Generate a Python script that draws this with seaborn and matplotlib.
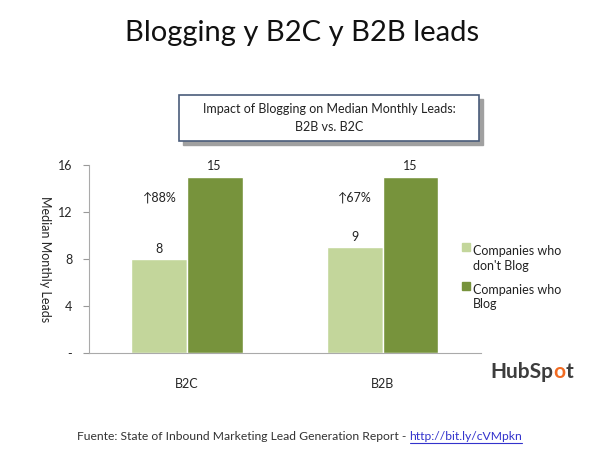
import matplotlib
matplotlib.use('Agg')
import matplotlib.pyplot as plt
from matplotlib.patches import Rectangle
import pandas as pd
import seaborn as sns

# Data
categories = ['B2C', 'B2B']
no_blog = [8, 9]
blog = [15, 15]
series_names = ["Companies who\ndon't Blog", 'Companies who\nBlog']
y_ticks = [0, 4, 8, 12, 16]
y_tick_labels = ['-', '4', '8', '12', '16']

df = pd.DataFrame({
    'category': categories * 2,
    'leads': no_blog + blog,
    'series': [series_names[0]] * 2 + [series_names[1]] * 2,
})

sns.set_style('white')
plt.rcParams['font.family'] = ['Lato', 'DejaVu Sans']

fig = plt.figure(figsize=(6, 4.5), dpi=100)
ax = fig.add_axes([0.148, 0.2156, 0.653, 0.418])

sns.barplot(data=df, x='category', y='leads', hue='series', order=categories,
            hue_order=series_names, palette=['#c3d69b', '#77933c'],
            width=0.57, saturation=1, ax=ax, legend=False)

for cont in ax.containers:
    ax.bar_label(cont, fmt='%d', padding=3, fontsize=9, color='#222222')

# percent increase labels
for i, (a, b) in enumerate(zip(no_blog, blog)):
    pct = round((b - a) / a * 100)
    ax.text(i - 0.14, 13.2, '\u2191' + f'{pct}%', ha='center', va='center',
            fontsize=9, color='#222222', family=['Lato', 'DejaVu Sans'])

ax.set_xlim(-0.5, 1.5)
ax.set_ylim(0, 16)
ax.set_yticks(y_ticks)
ax.set_yticklabels(y_tick_labels, fontsize=9)
ax.set_xticks([0, 1])
ax.set_xticklabels(categories, fontsize=9)
ax.set_xticks([0.5, 1.5], minor=True)
ax.tick_params(axis='x', which='major', length=0, pad=18)
ax.tick_params(axis='x', which='minor', length=4, color='#999999', direction='out')
ax.tick_params(axis='y', length=4, color='#999999', direction='out', pad=8, left=True)
ax.set_xlabel('')
ax.set_ylabel('Median Monthly Leads', rotation=-90, fontsize=9,
              ha='center', va='center')
ax.yaxis.set_label_coords(-0.112, 0.5)
for s in ['top', 'right']:
    ax.spines[s].set_visible(False)
for s in ['left', 'bottom']:
    ax.spines[s].set_color('#aaaaaa')
    ax.spines[s].set_linewidth(0.8)

# legend
for k, (name, col) in enumerate(zip(series_names, ['#c3d69b', '#77933c'])):
    ytop = 1 - (251 - 6) / 450 - k * 39 / 450
    fig.patches.append(Rectangle((462 / 600, ytop - 0.013), 8 / 600, 8 / 450,
                                 transform=fig.transFigure, color=col))
    fig.text(473 / 600, ytop, name, fontsize=9, va='top', ha='left',
             linespacing=1.25, color='#222222')

# main title
fig.text(302 / 600, 1 - 33 / 450, 'Blogging y B2C y B2B leads', ha='center', va='center',
         fontsize=21, color='#111111')

# boxed chart title with shadow
fig.patches.append(Rectangle((183 / 600, 1 - 145 / 450), 300 / 600, 46 / 450,
                             transform=fig.transFigure, color='#a0a0a0', zorder=1))
fig.patches.append(Rectangle((179 / 600, 1 - 141 / 450), 300 / 600, 46 / 450,
                             transform=fig.transFigure, facecolor='white',
                             edgecolor='#4a5c7a', linewidth=1.2, zorder=2))
fig.text(329 / 600, 1 - 118 / 450, 'Impact of Blogging on Median Monthly Leads:\nB2B vs. B2C',
         ha='center', va='center', fontsize=9, linespacing=1.6, zorder=3,
         color='#222222')

# HubSpot logo as text
t1 = fig.text(490 / 600, 1 - 372 / 450, 'HubSp', fontsize=15, fontweight='bold',
              color='#3d3d3d', va='center', ha='left')
fig.canvas.draw()
r = fig.canvas.get_renderer()
bb = t1.get_window_extent(r)
t2 = fig.text(bb.x1 / 600, 1 - 372 / 450, 'o', fontsize=15, fontweight='bold',
              color='#f26b21', va='center', ha='left')
bb2 = t2.get_window_extent(r)
fig.text(bb2.x1 / 600, 1 - 372 / 450, 't', fontsize=15, fontweight='bold',
         color='#3d3d3d', va='center', ha='left')

# footer with link
f1 = fig.text(77 / 600, 1 - 437 / 450,
              'Fuente: State of Inbound Marketing Lead Generation Report - ',
              fontsize=8.7, color='#333333', va='center', ha='left')
bb3 = f1.get_window_extent(r)
link = fig.text(bb3.x1 / 600, 1 - 437 / 450, 'http://bit.ly/cVMpkn',
                fontsize=8.7, color='#3333cc', va='center', ha='left')
bb4 = link.get_window_extent(r)
fig.add_artist(plt.Line2D([bb4.x0 / 600, bb4.x1 / 600],
                          [bb4.y0 / 450 - 0.002, bb4.y0 / 450 - 0.002],
                          transform=fig.transFigure, color='#3333cc', linewidth=0.8))

fig.savefig('out.png', dpi=100)
